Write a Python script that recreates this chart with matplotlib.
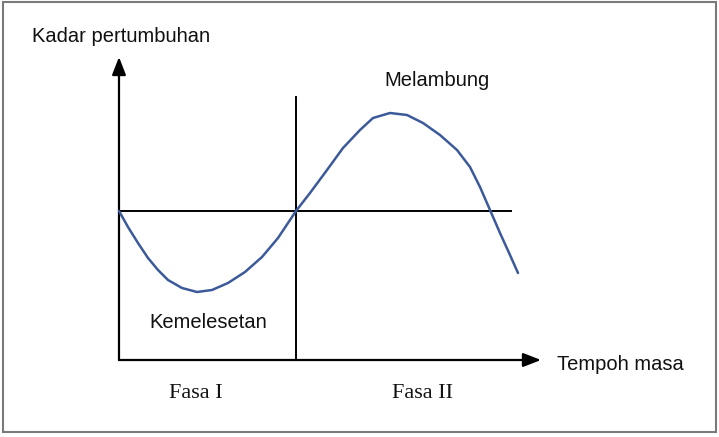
import numpy as np
import matplotlib.pyplot as plt
from matplotlib.patches import Rectangle, FancyArrowPatch

# growth curve (time, growth rate)
time = [0, 0.9, 1.9, 2.9, 3.9, 4.9, 6.3, 7.8, 9.3, 10.9, 12.6, 14.3, 15.9, 17.7,
        19.1, 20.8, 22.4, 24.1, 25.4, 27.1, 28.8, 30.4, 32.1, 33.8, 35.1,
        36.1, 37.1, 38.1, 39.1, 39.9]
growth = [0, -1.6, -3.2, -4.7, -5.9, -6.9, -7.7, -8.1, -7.9, -7.2, -6.1, -4.6, -2.7, 0,
          1.8, 4.1, 6.3, 8.1, 9.3, 9.8, 9.6, 8.8, 7.6, 6.1, 4.4,
          2.4, 0.1, -2.2, -4.4, -6.2]

phase_split = 17.7
x_end = 42.2
y_top = 15.4
y_base = -14.9
zero_end = 39.2
split_top = 11.4

fig = plt.figure(figsize=(7.19, 4.37), dpi=100)
ax = fig.add_axes([0, 0, 1, 1])
ax.set_xlim(-11.9, 60.0)
ax.set_ylim(-22.6, 21.1)
ax.axis('off')

# outer frame
ax.add_patch(Rectangle((-11.6, -22.1), 71.3, 43.0, fill=False,
                       edgecolor='#7a7a7a', lw=1.5, zorder=1))

arrow_kw = dict(arrowstyle='-|>,head_length=0.9,head_width=0.35',
                color='black', lw=1.6, mutation_scale=12, shrinkA=0, shrinkB=0)
ax.add_patch(FancyArrowPatch((0, y_base), (0, y_top), **arrow_kw))
ax.add_patch(FancyArrowPatch((0, y_base), (x_end, y_base), **arrow_kw))

ax.plot([0, zero_end], [0, 0], color='black', lw=1.4)
ax.plot([phase_split, phase_split], [y_base, split_top], color='black', lw=1.4)

ax.plot(time, growth, color='#3c5a9a', lw=1.8, solid_capstyle='round',
        solid_joinstyle='round')

sans = 'Liberation Sans'
serif = 'Liberation Serif'
ax.text(-8.7, 17.5, 'Kadar pertumbuhan', fontsize=14.5, family=sans,
        va='center', ha='left', color='#111111')
ax.text(31.8, 13.0, 'Melambung', fontsize=14.5, family=sans,
        va='center', ha='center', color='#111111')
ax.text(8.9, -11.2, 'Kemelesetan', fontsize=14.5, family=sans,
        va='center', ha='center', color='#111111')
ax.text(43.8, -15.3, 'Tempoh masa', fontsize=14.5, family=sans,
        va='center', ha='left', color='#111111')
ax.text(7.7, -18.2, 'Fasa I', fontsize=16, family=serif,
        va='center', ha='center', color='#111111')
ax.text(30.4, -18.2, 'Fasa II', fontsize=16, family=serif,
        va='center', ha='center', color='#111111')

fig.savefig('out.png', dpi=100)
